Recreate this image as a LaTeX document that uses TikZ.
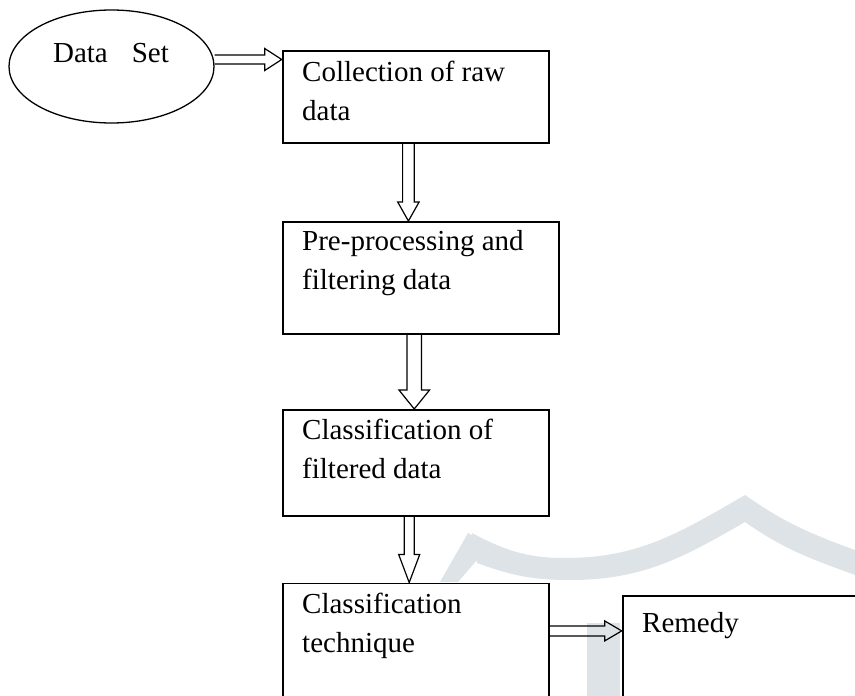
\documentclass[tikz,border=0pt]{standalone}
\usepackage{fontspec}
\setmainfont{Liberation Serif}
\usetikzlibrary{shapes.geometric,calc}

\definecolor{wmgray}{RGB}{222,227,231}

\newcommand\flowdown[5]{%
  \draw[flowarrow] let \p1=(#1), \p2=(#2) in
    (\x1-#3pt,\y1) -- (\x1-#3pt,\y2+#5pt) -- (\x1-#4pt,\y2+#5pt) -- (\x1,\y2)
    -- (\x1+#4pt,\y2+#5pt) -- (\x1+#3pt,\y2+#5pt) -- (\x1+#3pt,\y1);}
\newcommand\flowright[5]{%
  \draw[flowarrow] let \p1=(#1), \p2=(#2) in
    (\x1,\y1+#3pt) -- (\x2-#5pt,\y1+#3pt) -- (\x2-#5pt,\y1+#4pt) -- (\x2,\y1)
    -- (\x2-#5pt,\y1-#4pt) -- (\x2-#5pt,\y1-#3pt) -- (\x1,\y1-#3pt);}

\begin{document}
\begin{tikzpicture}[x=1pt,y=1pt,
    box/.style={draw,rectangle,line width=1.8pt,inner sep=0pt,anchor=north west},
    txt/.style={anchor=north west,align=left,inner sep=0pt,
      font=\fontsize{29}{39}\selectfont,execute at begin node=\strut},
    flowarrow/.style={line width=1.2pt,line join=miter}]
    \useasboundingbox (0,0) rectangle (855,-696);
    \clip (0,0) rectangle (855,-696);

    % watermark
    \fill[wmgray] (472,-533) to[out=-28,in=180] (565,-558) to[out=0,in=-150] (745,-495)
        to[out=-35,in=160] (855,-550) -- (855,-575) to[out=160,in=-35] (745,-522)
        to[out=-150,in=0] (570,-580) to[out=180,in=-20] (477,-563) -- cycle;
    \fill[wmgray] (468,-533) -- (490,-545) -- (458,-582) -- (440,-582) -- cycle;
    \fill[wmgray] (587,-623) rectangle (620,-696);

    \node[ellipse,draw,line width=1.3pt,minimum width=205pt,minimum height=113pt,inner sep=0pt] (dataset) at (111.5,-66.5) {};
    \node[anchor=north,inner sep=0pt,font=\fontsize{29}{39}\selectfont,execute at begin node=\strut] (dstxt) at (111,-35) {Data\hspace{24pt}Set};

    \node[box,minimum width=266pt,minimum height=91.7pt] (raw) at (281.7,-50) {};
    \node[box,minimum width=276.3pt,minimum height=112pt] (pre) at (281.7,-221) {};
    \node[box,minimum width=266.6pt,minimum height=106pt] (filt) at (281.7,-409) {};
    \node[box,minimum width=266.3pt,minimum height=150pt] (tech) at (281.7,-582.5) {};
    \node[box,minimum width=260pt,minimum height=150pt] (remedy) at (621.7,-595) {};

    \node[txt] (rawtxt) at (302,-60.4) {Collection of raw\\data};
    \node[txt] (pretxt) at (302,-229.7) {Pre-processing and\\filtering data};
    \node[txt] (filttxt) at (302,-418.4) {Classification of\\filtered data};
    \node[txt] (techtxt) at (302,-592.7) {Classification\\technique};
    \node[txt] (remedytxt) at (642,-604.7) {Remedy};

    \flowright{[yshift=7pt]dataset.east}{raw.west}{4.5}{11}{17}
    \flowdown{[xshift=-7.2pt]raw.south}{pre.north}{5.8}{10.7}{19}
    \flowdown{[xshift=-6.5pt]pre.south}{filt.north}{7.3}{15.3}{19}
    \flowdown{[xshift=-6.7pt]filt.south}{tech.north}{5}{10.5}{28}
    \flowright{[yshift=27.5pt]tech.east}{remedy.west}{5}{10}{17}
\end{tikzpicture}
\end{document}
